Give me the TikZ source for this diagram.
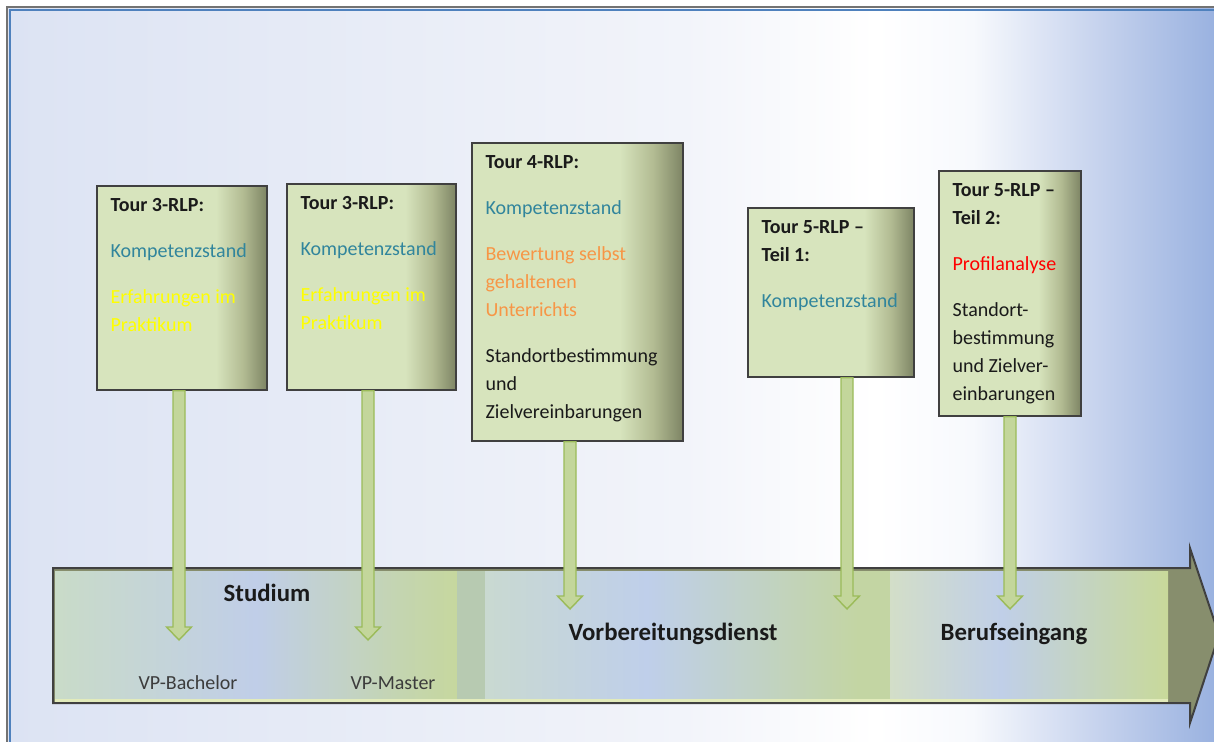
\documentclass[tikz,border=0pt]{standalone}
\usepackage{fontspec}
\setmainfont{Carlito}
\usetikzlibrary{calc}

\definecolor{boxhell}{HTML}{D7E4BD}
\definecolor{boxmitte}{HTML}{B2BB92}
\definecolor{boxdunkel}{HTML}{7D8464}
\definecolor{kompetenz}{HTML}{31859C}
\definecolor{gelb}{HTML}{FFFF00}
\definecolor{orange}{HTML}{F79646}
\definecolor{rot}{HTML}{FF0000}
\definecolor{schrift}{HTML}{1A1A1A}
\definecolor{pfeilgruen}{HTML}{C3D69B}
\definecolor{pfeilrand}{HTML}{9BBB59}
\definecolor{oliv}{HTML}{878E6D}
\definecolor{bandgruen}{HTML}{B7CAB1}
\definecolor{kante}{HTML}{E2EBBB}
\definecolor{rahmenblau}{HTML}{4F81BD}

% Verlaeufe
\pgfdeclarehorizontalshading{hintergrund}{100bp}{color(0bp)=(rgb,255:red,220;green,227;blue,243); color(25bp)=(rgb,255:red,220;green,227;blue,243); color(53bp)=(rgb,255:red,242;green,244;blue,250); color(61bp)=(white); color(65bp)=(rgb,255:red,247;green,249;blue,253); color(70bp)=(rgb,255:red,200;green,212;blue,238); color(75bp)=(rgb,255:red,154;green,178;blue,224); color(100bp)=(rgb,255:red,154;green,178;blue,224)}
\pgfdeclarehorizontalshading{tourverlauf}{100bp}{color(0bp)=(boxhell); color(25bp)=(boxhell); color(60bp)=(boxhell); color(68bp)=(boxmitte); color(75bp)=(boxdunkel); color(100bp)=(boxdunkel)}
\pgfdeclarehorizontalshading{studium}{100bp}{color(0bp)=(rgb,255:red,201;green,219;blue,200); color(25bp)=(rgb,255:red,201;green,219;blue,200); color(50bp)=(rgb,255:red,192;green,206;blue,232); color(68bp)=(rgb,255:red,196;green,213;blue,176); color(75bp)=(rgb,255:red,198;green,215;blue,158); color(100bp)=(rgb,255:red,198;green,215;blue,158)}
\pgfdeclarehorizontalshading{vorbereitung}{100bp}{color(0bp)=(rgb,255:red,201;green,217;blue,209); color(25bp)=(rgb,255:red,201;green,217;blue,209); color(45bp)=(rgb,255:red,191;green,207;blue,234); color(71bp)=(rgb,255:red,195;green,213;blue,163); color(75bp)=(rgb,255:red,195;green,213;blue,163); color(100bp)=(rgb,255:red,195;green,213;blue,163)}
\pgfdeclarehorizontalshading{beruf}{100bp}{color(0bp)=(rgb,255:red,211;green,222;blue,200); color(25bp)=(rgb,255:red,211;green,222;blue,200); color(45bp)=(rgb,255:red,192;green,207;blue,232); color(75bp)=(rgb,255:red,200;green,217;blue,154); color(100bp)=(rgb,255:red,200;green,217;blue,154)}

% senkrechter Pfeil von einer Tour zum Zeitstrahl
\newcommand{\tourpfeil}[2]{%
  \coordinate (#1s) at (#2 |- #1.south);
  \draw[pfeil] ($(#1s)+(-6,0)$) -- ($(#2)+(-6,-13)$) -- ($(#2)+(-12.5,-13)$) -- (#2)
    -- ($(#2)+(12.5,-13)$) -- ($(#2)+(6,-13)$) -- ($(#1s)+(6,0)$) -- cycle;}

\begin{document}
\begin{tikzpicture}[x=0.5pt,y=-0.5pt,
  tourbox/.style = {draw=black!75,line width=0.8pt,shading=tourverlauf,rectangle,inner sep=0pt},
  tourtext/.style = {anchor=north west,align=left,inner sep=0pt,text=schrift,font=\fontsize{10}{14}\selectfont},
  phase/.style = {text=schrift,font=\fontsize{12.4}{15}\selectfont\bfseries},
  vp/.style = {text=schrift!85,font=\fontsize{10}{12}\selectfont},
  pfeil/.style = {fill=pfeilgruen,draw=pfeilrand,line width=0.7pt,line join=miter}]
\useasboundingbox (0,0) rectangle (1214,742);
\clip (0,0) rectangle (1214,742);

% Hintergrund
\fill[white] (0,0) rectangle (1214,742);
\shade[shading=hintergrund] (8,8) rectangle (1214,742);
\draw[black!55,line width=1pt] (7,760) -- (7,7) -- (1230,7);
\draw[rahmenblau,line width=0.8pt] (10,760) -- (10,10) -- (1230,10);

% Zeitstrahl
\draw[fill=oliv,draw=black!75,line width=1pt,line join=miter]
  (53,568) -- (1190,568) -- (1190,548) -- (1219,635) -- (1190,723) -- (1190,703) -- (53,703) -- cycle;
\shade[shading=studium] (55,571) rectangle (457,699);
\fill[bandgruen] (457,571) rectangle (485,699);
\shade[shading=vorbereitung] (485,571) rectangle (890,699);
\shade[shading=beruf] (890,571) rectangle (1168,699);
\fill[kante] (55,699) rectangle (1168,702);

\node[phase] (studium) at (267,593) {Studium};
\node[phase] (vd) at (673,634) {Vorbereitungsdienst};
\node[phase] (be) at (1014,634) {Berufseingang};
\node[vp] (vpb) at (188,683) {VP-Bachelor};
\node[vp] (vpm) at (393,683) {VP-Master};

% Touren
\node[tourbox,minimum width=85pt,minimum height=102pt] (b1) at (182,288) {};
\node[tourbox,minimum width=84.5pt,minimum height=103pt] (b2) at (371.5,287) {};
\node[tourbox,minimum width=105.5pt,minimum height=149pt] (b3) at (577.5,292) {};
\node[tourbox,minimum width=83pt,minimum height=84.5pt] (b4) at (831,292.5) {};
\node[tourbox,minimum width=71pt,minimum height=122.5pt] (b5) at (1010,293.5) {};

\coordinate (z1) at (179,640);
\coordinate (z2) at (368,640);
\coordinate (z3) at (570,609);
\coordinate (z4) at (847,609);
\coordinate (z5) at (1010,609);
\tourpfeil{b1}{z1}
\tourpfeil{b2}{z2}
\tourpfeil{b3}{z3}
\tourpfeil{b4}{z4}
\tourpfeil{b5}{z5}

\node[tourtext] (t1) at ([shift={(14,13)}]b1.north west) {\textbf{Tour 3-RLP:}\\[9pt]
  \textcolor{kompetenz}{Kompetenzstand}\\[9pt]
  \textcolor{gelb}{Erfahrungen im}\\ \textcolor{gelb}{Praktikum}};
\node[tourtext] (t2) at ([shift={(14,13)}]b2.north west) {\textbf{Tour 3-RLP:}\\[9pt]
  \textcolor{kompetenz}{Kompetenzstand}\\[9pt]
  \textcolor{gelb}{Erfahrungen im}\\ \textcolor{gelb}{Praktikum}};
\node[tourtext] (t3) at ([shift={(14,13)}]b3.north west) {\textbf{Tour 4-RLP:}\\[9pt]
  \textcolor{kompetenz}{Kompetenzstand}\\[9pt]
  \textcolor{orange}{Bewertung selbst}\\ \textcolor{orange}{gehaltenen}\\ \textcolor{orange}{Unterrichts}\\[9pt]
  Standortbestimmung\\ und\\ Zielvereinbarungen};
\node[tourtext] (t4) at ([shift={(14,13)}]b4.north west) {\textbf{Tour 5-RLP --}\\ \textbf{Teil 1:}\\[9pt]
  \textcolor{kompetenz}{Kompetenzstand}};
\node[tourtext] (t5) at ([shift={(14,13)}]b5.north west) {\textbf{Tour 5-RLP --}\\ \textbf{Teil 2:}\\[9pt]
  \textcolor{rot}{Profilanalyse}\\[9pt]
  Standort-\\ bestimmung\\ und Zielver-\\ einbarungen};
\end{tikzpicture}
\end{document}
